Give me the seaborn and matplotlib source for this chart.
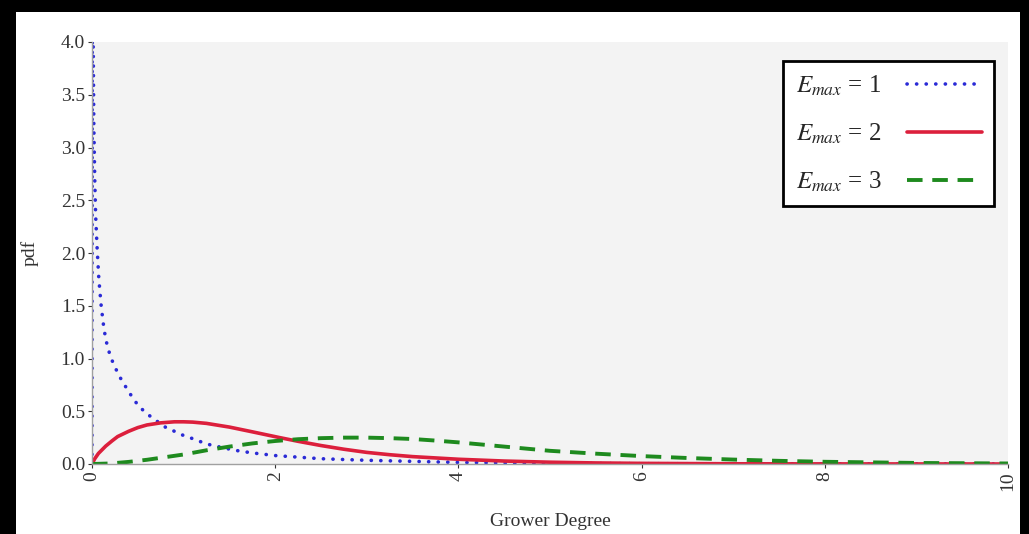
import matplotlib
matplotlib.use("Agg")
import matplotlib.pyplot as plt
import seaborn as sns
import pandas as pd
from matplotlib.patches import Rectangle

# ---- data ----
x_e1 = [0.0, 0.003, 0.01, 0.02, 0.03, 0.04, 0.055, 0.075, 0.1, 0.125, 0.15, 0.2, 0.25, 0.3,
        0.39, 0.45, 0.5, 0.58, 0.67, 0.8, 0.9, 1.0, 1.1, 1.25, 1.4, 1.56, 1.75, 2.0, 2.25, 2.5,
        3.0, 3.5, 4.0, 4.5, 5.0, 6.0, 7.0, 8.0, 10.0]
y_e1 = [0.0, 4.6, 4.3, 3.2, 2.7, 2.35, 2.06, 1.75, 1.5, 1.32, 1.18, 1.02, 0.92, 0.83,
        0.70, 0.62, 0.56, 0.49, 0.43, 0.35, 0.31, 0.27, 0.24, 0.19, 0.16, 0.13, 0.105, 0.08,
        0.065, 0.05, 0.035, 0.025, 0.015, 0.01, 0.007, 0.003, 0.002, 0.001, 0.0]

x_e2 = [0.0, 0.03, 0.07, 0.15, 0.22, 0.28, 0.4, 0.5, 0.6, 0.75, 0.9, 1.0, 1.1, 1.25, 1.5,
        1.75, 2.05, 2.25, 2.5, 2.75, 3.0, 3.25, 3.5, 4.0, 4.5, 5.0, 5.5, 6.0, 7.0, 8.0, 10.0]
y_e2 = [0.0, 0.05, 0.10, 0.17, 0.22, 0.26, 0.31, 0.345, 0.37, 0.39, 0.40, 0.40, 0.397, 0.385,
        0.35, 0.305, 0.25, 0.215, 0.175, 0.14, 0.11, 0.088, 0.07, 0.045, 0.028, 0.017, 0.01,
        0.006, 0.002, 0.001, 0.0]

x_e3 = [0.0, 0.2, 0.4, 0.6, 0.8, 1.0, 1.25, 1.5, 1.75, 2.0, 2.25, 2.5, 2.75, 3.0, 3.25, 3.5,
        3.75, 4.0, 4.25, 4.5, 4.75, 5.0, 5.5, 6.0, 6.5, 7.0, 7.5, 8.0, 9.0, 10.0]
y_e3 = [0.0, 0.005, 0.02, 0.04, 0.065, 0.09, 0.13, 0.165, 0.195, 0.218, 0.235, 0.245, 0.25,
        0.25, 0.245, 0.237, 0.222, 0.205, 0.185, 0.165, 0.145, 0.125, 0.098, 0.075, 0.057,
        0.042, 0.03, 0.021, 0.01, 0.005]

labels = [r"$E_{max}$ = 1", r"$E_{max}$ = 2", r"$E_{max}$ = 3"]
y_ticks = [0.0, 0.5, 1.0, 1.5, 2.0, 2.5, 3.0, 3.5, 4.0]
x_ticks = [0, 2, 4, 6, 8, 10]

sns.set_style("white")
plt.rcParams["font.family"] = ["Liberation Serif", "DejaVu Serif"]
plt.rcParams["mathtext.fontset"] = "stix"

fig = plt.figure(figsize=(10.29, 5.34), dpi=100)
fig.patch.set_facecolor("white")

# black frame pieces of the screenshot
fig.patches.append(Rectangle((0, 0), 16 / 1029, 1, transform=fig.transFigure,
                             facecolor="black", edgecolor="none", zorder=0))
fig.patches.append(Rectangle((1020 / 1029, 0), 9 / 1029, 1, transform=fig.transFigure,
                             facecolor="black", edgecolor="none", zorder=0))
fig.patches.append(Rectangle((0, 1 - 12 / 534), 1, 12 / 534, transform=fig.transFigure,
                             facecolor="black", edgecolor="none", zorder=0))

ax = fig.add_axes([92 / 1029, 70 / 534, 916 / 1029, 422 / 534])
ax.set_facecolor("#f3f3f3")

df1 = pd.DataFrame({"x": x_e1, "y": y_e1})
df2 = pd.DataFrame({"x": x_e2, "y": y_e2})
df3 = pd.DataFrame({"x": x_e3, "y": y_e3})

sns.lineplot(data=df1, x="x", y="y", ax=ax, color="#2a2ad6", lw=2.6,
             linestyle=(0, (0.05, 2.6)), dash_capstyle="round", label=labels[0],
             sort=False, estimator=None)
sns.lineplot(data=df2, x="x", y="y", ax=ax, color="#dc1f3c", lw=2.6,
             label=labels[1], sort=False, estimator=None)
sns.lineplot(data=df3, x="x", y="y", ax=ax, color="#1e8a1e", lw=2.8,
             linestyle=(0, (4, 2.5)), label=labels[2], sort=False, estimator=None)

ax.set_xlim(0, 10)
ax.set_ylim(0, 4.0)
ax.set_yticks(y_ticks)
ax.set_yticklabels([f"{v:.1f}" for v in y_ticks])
ax.set_xticks(x_ticks)
ax.set_xticklabels([str(v) for v in x_ticks], rotation=90)
ax.tick_params(axis="both", labelsize=14, colors="#333333", length=3, width=0.8,
               direction="out", bottom=True, left=True, pad=2)
for lab in ax.get_xticklabels() + ax.get_yticklabels():
    lab.set_color("#333333")

for s in ["top", "right"]:
    ax.spines[s].set_visible(False)
for s in ["left", "bottom"]:
    ax.spines[s].set_color("#a0a0a0")
    ax.spines[s].set_linewidth(1.0)

ax.set_xlabel("Grower Degree", fontsize=14, color="#333333", labelpad=16)
ax.set_ylabel("pdf", fontsize=14, color="#333333", labelpad=4)
ax.yaxis.set_label_coords(-0.058, 0.5)

leg = ax.legend(loc="upper right", bbox_to_anchor=(0.9985, 0.985), markerfirst=False,
                fontsize=18, frameon=True, fancybox=False, handlelength=3.0,
                labelspacing=0.95, borderpad=0.5, borderaxespad=0.5, handletextpad=1.0)
leg.get_frame().set_edgecolor("black")
leg.get_frame().set_linewidth(2.0)
leg.get_frame().set_facecolor("white")
leg.get_frame().set_alpha(1.0)

fig.savefig("out.png", dpi=100)
